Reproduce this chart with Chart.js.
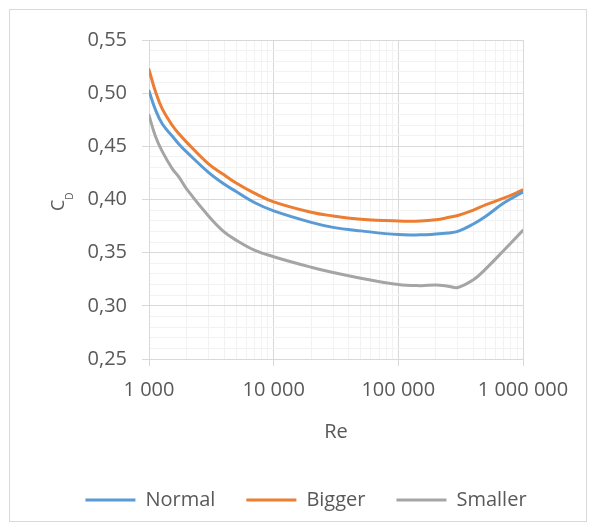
<!DOCTYPE html>
<html>
<head>
<meta charset="utf-8">
<script src="https://cdn.jsdelivr.net/npm/chart.js@4.4.1/dist/chart.umd.min.js"></script>
<style>
    body { margin: 0; background: #fff; }
    .wrap { position: relative; width: 596px; height: 532px; }
    .frame { position: absolute; left: 9px; top: 9px; width: 576px; height: 511px; border: 1px solid #d9d9d9; }
    canvas { position: absolute; left: 0; top: 0; }
</style>
</head>
<body>
<div class="wrap">
    <div class="frame"></div>
    <canvas id="cdChart" width="596" height="532"></canvas>
</div>
<script>
let reValues = [1000, 1130, 1280, 1540, 1740, 2000, 3000, 4000, 5000, 7000, 10000, 20000, 30000, 50000,
    100000, 150000, 200000, 250000, 300000, 400000, 500000, 700000, 1000000];
let normal = [0.502, 0.484, 0.471, 0.4595, 0.452, 0.4448, 0.4255, 0.4145, 0.4075, 0.3972, 0.3893, 0.3785, 0.3738, 0.3705,
    0.367, 0.3668, 0.3675, 0.3685, 0.370, 0.377, 0.384, 0.3966, 0.407];
let bigger = [0.522, 0.501, 0.485, 0.4696, 0.4618, 0.454, 0.4335, 0.4232, 0.4155, 0.406, 0.3978, 0.388, 0.3845, 0.3814,
    0.3798, 0.3798, 0.381, 0.383, 0.385, 0.390, 0.395, 0.4012, 0.409];
let smaller = [0.479, 0.459, 0.445, 0.4288, 0.421, 0.410, 0.3845, 0.3695, 0.3618, 0.3525, 0.3462, 0.3363, 0.3313, 0.326,
    0.320, 0.319, 0.3195, 0.3185, 0.3172, 0.3245, 0.3345, 0.352, 0.371];

let xMajorTicks = [1000, 10000, 100000, 1000000];
let xTickLabels = ['1 000', '10 000', '100 000', '1 000 000'];
let yMajorTicks = [0.25, 0.30, 0.35, 0.40, 0.45, 0.50, 0.55];
let yTickLabels = ['0,25', '0,30', '0,35', '0,40', '0,45', '0,50', '0,55'];

// grid lines: 1..9 in every decade, and every 0,01 on the y axis
let xGrid = [];
for (let d = 1000; d < 1000000; d *= 10) {
    for (let k = 1; k < 10; k++) xGrid.push(d * k);
}
xGrid.push(1000000);
let yGrid = [];
for (let i = 25; i <= 55; i++) yGrid.push(i / 100);

function toPoints(values) {
    return reValues.map((re, i) => ({ x: re, y: values[i] }));
}
function xIndex(v) {
    return xMajorTicks.findIndex(t => Math.abs(t - v) < 0.5);
}
function yIndex(v) {
    return yMajorTicks.findIndex(t => Math.abs(t - v) < 1e-6);
}
function gridColor(isMajor) {
    return ctx => (ctx.tick && isMajor(ctx.tick.value)) ? '#d9d9d9' : '#f2f2f2';
}
function tickColor(isMajor) {
    return ctx => (ctx.tick && isMajor(ctx.tick.value)) ? '#d9d9d9' : 'rgba(0,0,0,0)';
}

// C with subscript D, drawn rotated
let yTitle = {
    id: 'yTitle',
    afterDraw(chart) {
        let ctx = chart.ctx;
        ctx.save();
        ctx.fillStyle = '#595959';
        ctx.translate(64, 211);
        ctx.rotate(-Math.PI / 2);
        ctx.textBaseline = 'alphabetic';
        ctx.textAlign = 'left';
        ctx.font = '18px "Open Sans"';
        ctx.fillText('C', 0, 0);
        let w = ctx.measureText('C').width;
        ctx.font = '10px "Open Sans"';
        ctx.fillText('D', w, 9);
        ctx.restore();
    }
};

Chart.defaults.font.family = '"Open Sans", sans-serif';
Chart.defaults.font.size = 20;
Chart.defaults.color = '#595959';

let lineStyle = {
    borderWidth: 3,
    pointRadius: 0,
    pointHoverRadius: 0,
    fill: false,
    tension: 0.4,
    borderCapStyle: 'round',
    borderJoinStyle: 'round'
};

let chart = new Chart(document.getElementById('cdChart'), {
    type: 'line',
    data: {
        datasets: [
            Object.assign({ label: 'Normal', data: toPoints(normal), borderColor: '#5b9bd5', backgroundColor: '#5b9bd5' }, lineStyle),
            Object.assign({ label: 'Bigger', data: toPoints(bigger), borderColor: '#ed7d31', backgroundColor: '#ed7d31' }, lineStyle),
            Object.assign({ label: 'Smaller', data: toPoints(smaller), borderColor: '#a5a5a5', backgroundColor: '#a5a5a5' }, lineStyle)
        ]
    },
    options: {
        responsive: false,
        animation: false,
        layout: { padding: { left: 16, right: 0, top: 40, bottom: 12 } },
        plugins: {
            tooltip: { enabled: false },
            legend: {
                position: 'bottom',
                labels: {
                    usePointStyle: true,
                    pointStyle: 'line',
                    pointStyleWidth: 50,
                    padding: 31,
                    color: '#595959',
                    font: { size: 20 }
                }
            }
        },
        scales: {
            x: {
                type: 'logarithmic',
                min: 1000,
                max: 1000000,
                afterBuildTicks: s => { s.ticks = xGrid.map(v => ({ value: v })); },
                afterFit: s => { s.height = 100; s.paddingLeft = 0; s.paddingRight = 73; },
                ticks: {
                    autoSkip: false,
                    maxRotation: 0,
                    padding: 12,
                    callback: v => xIndex(v) >= 0 ? xTickLabels[xIndex(v)] : ''
                },
                grid: { color: gridColor(v => xIndex(v) >= 0), tickColor: tickColor(v => xIndex(v) >= 0), tickLength: 7 },
                border: { color: '#d9d9d9' },
                title: { display: true, text: 'Re', padding: { top: 0, bottom: 15 } }
            },
            y: {
                min: 0.25,
                max: 0.55,
                afterBuildTicks: s => { s.ticks = yGrid.map(v => ({ value: v })); },
                afterFit: s => { s.width = 133; },
                ticks: {
                    autoSkip: false,
                    padding: 15,
                    callback: v => yIndex(v) >= 0 ? yTickLabels[yIndex(v)] : ''
                },
                grid: { color: gridColor(v => yIndex(v) >= 0), tickColor: tickColor(v => yIndex(v) >= 0), tickLength: 7 },
                border: { color: '#d9d9d9' }
            }
        }
    },
    plugins: [yTitle]
});
</script>
</body>
</html>
